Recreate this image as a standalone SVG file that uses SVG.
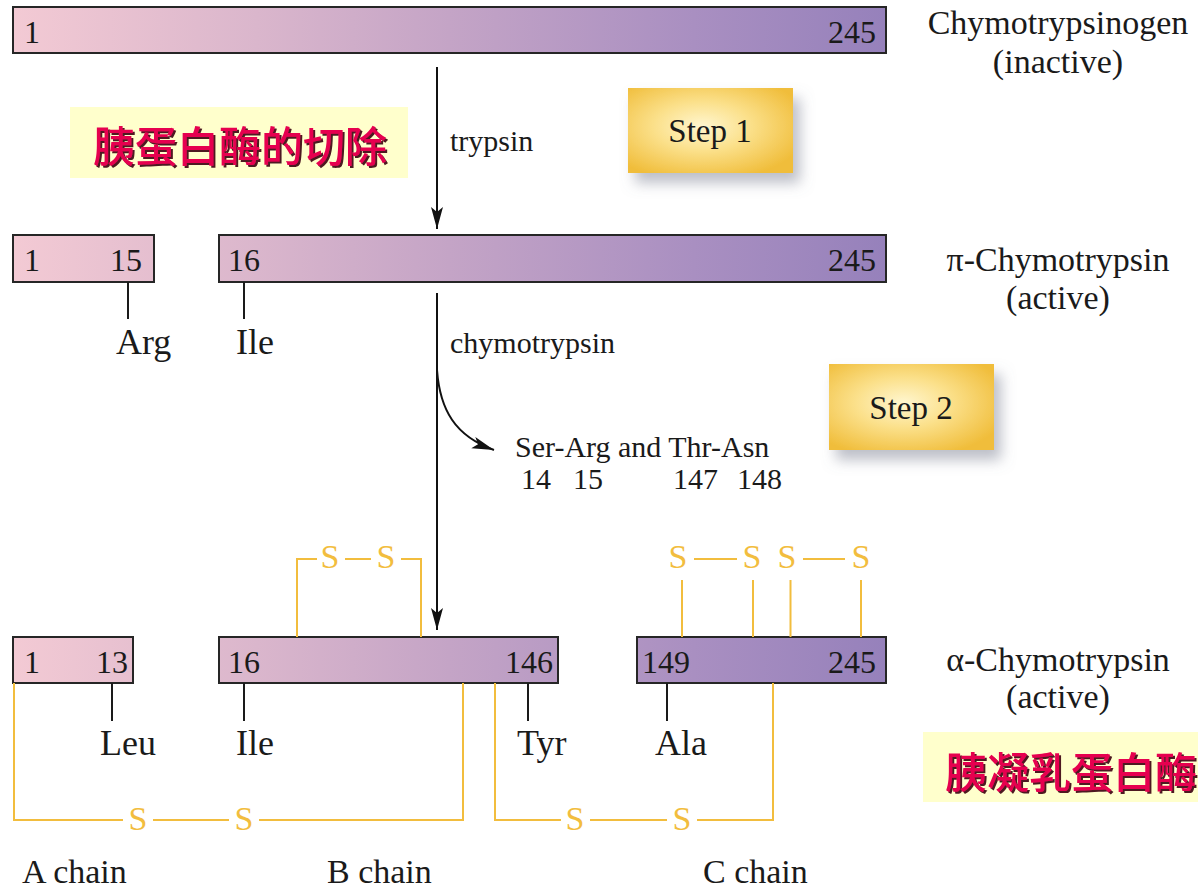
<svg xmlns="http://www.w3.org/2000/svg" width="1198" height="889" viewBox="0 0 1198 889">
<defs>
<linearGradient id="barGrad" gradientUnits="userSpaceOnUse" x1="13" y1="0" x2="886" y2="0">
<stop offset="0" stop-color="#f3cad4"/>
<stop offset="0.28" stop-color="#dab6cc"/>
<stop offset="0.5" stop-color="#c4a4c6"/>
<stop offset="0.78" stop-color="#a98fc1"/>
<stop offset="1" stop-color="#9681bb"/>
</linearGradient>
<radialGradient id="goldGrad" cx="0.45" cy="0.45" r="0.65">
<stop offset="0" stop-color="#fff6cf"/>
<stop offset="0.45" stop-color="#fbe08a"/>
<stop offset="1" stop-color="#f0bd3a"/>
</radialGradient>
<filter id="boxShadow" x="-20%" y="-20%" width="150%" height="160%">
<feDropShadow dx="7" dy="10" stdDeviation="7" flood-color="#7a7f90" flood-opacity="0.5"/>
</filter>
<filter id="cnShadow" x="-5%" y="-10%" width="110%" height="130%">
<feDropShadow dx="2" dy="2" stdDeviation="0.4" flood-color="#3a0010" flood-opacity="0.9"/>
</filter>
<marker id="arrowHead" markerUnits="userSpaceOnUse" markerWidth="24" markerHeight="14" refX="22" refY="7" orient="auto">
<path d="M0,1 L22,7 L0,13 L5,7 Z" fill="#111"/>
</marker>
<style>
.bar{fill:url(#barGrad);stroke:#262626;stroke-width:2}
.num{font-family:"Liberation Serif",serif;font-size:32px;fill:#1a1a1a}
.lbl{font-family:"Liberation Serif",serif;font-size:34px;fill:#1a1a1a;text-anchor:middle}
.res{font-family:"Liberation Serif",serif;font-size:36px;fill:#1a1a1a}
.small{font-family:"Liberation Serif",serif;font-size:30px;fill:#1a1a1a}
.chain{font-family:"Liberation Serif",serif;font-size:34px;fill:#1a1a1a}
.step{font-family:"Liberation Serif",serif;font-size:33px;fill:#1a1a1a;text-anchor:middle}
.tick{stroke:#1a1a1a;stroke-width:2;fill:none}
.ss{stroke:#f2bd3e;stroke-width:2;fill:none}
.s{font-family:"Liberation Serif",serif;font-size:34px;fill:#f2bd3e;text-anchor:middle}
.cn{font-family:"Noto Sans CJK SC",sans-serif;font-weight:500;font-size:42px;fill:#e6004f;filter:url(#cnShadow)}
.cnbox{fill:#ffffcc}
.arrow{stroke:#111;stroke-width:2;fill:none;marker-end:url(#arrowHead)}
</style>
</defs>
<rect width="1198" height="889" fill="#ffffff"/>

<g id="chymotrypsinogen">
<rect class="bar" x="13" y="7" width="873" height="46"/>
<text class="num" x="24" y="43">1</text>
<text class="num" x="876" y="43" text-anchor="end">245</text>
<text class="lbl" x="1058" y="34">Chymotrypsinogen</text>
<text class="lbl" x="1058" y="73">(inactive)</text>
</g>

<g id="title-cn">
<rect class="cnbox" x="70" y="107" width="338" height="71"/>
<text class="cn" x="93" y="162">胰蛋白酶的切除</text>
</g>

<g id="step1">
<rect x="628" y="88" width="165" height="85" fill="url(#goldGrad)" filter="url(#boxShadow)"/>
<text class="step" x="710" y="142">Step 1</text>
</g>

<g id="pi-chymotrypsin">
<rect class="bar" x="13" y="235" width="141" height="47"/>
<text class="num" x="24" y="271">1</text>
<text class="num" x="110" y="271">15</text>
<rect class="bar" x="219" y="235" width="667" height="47"/>
<text class="num" x="228" y="271">16</text>
<text class="num" x="876" y="271" text-anchor="end">245</text>
<line class="tick" x1="128" y1="282" x2="128" y2="319"/>
<text class="res" x="116" y="354">Arg</text>
<line class="tick" x1="244" y1="282" x2="244" y2="319"/>
<text class="res" x="236" y="354">Ile</text>
<text class="lbl" x="1058" y="271">π-Chymotrypsin</text>
<text class="lbl" x="1058" y="309">(active)</text>
</g>

<g id="step2">
<rect x="829" y="364" width="165" height="86" fill="url(#goldGrad)" filter="url(#boxShadow)"/>
<text class="step" x="911" y="419">Step 2</text>
</g>

<g id="released">
<text class="small" x="515" y="457">Ser-Arg and Thr-Asn</text>
<text class="small" x="521" y="489">14</text>
<text class="small" x="573" y="489">15</text>
<text class="small" x="673" y="489">147</text>
<text class="small" x="737" y="489">148</text>
</g>

<g id="alpha-chymotrypsin">
<rect class="bar" x="13" y="637" width="120" height="46"/>
<text class="num" x="24" y="673">1</text>
<text class="num" x="96" y="673">13</text>
<rect class="bar" x="219" y="637" width="339" height="46"/>
<text class="num" x="228" y="673">16</text>
<text class="num" x="553" y="673" text-anchor="end">146</text>
<rect class="bar" x="637" y="637" width="249" height="46"/>
<text class="num" x="642" y="673">149</text>
<text class="num" x="876" y="673" text-anchor="end">245</text>
<line class="tick" x1="112" y1="683" x2="112" y2="721"/>
<text class="res" x="100" y="755">Leu</text>
<line class="tick" x1="244" y1="683" x2="244" y2="721"/>
<text class="res" x="236" y="755">Ile</text>
<line class="tick" x1="528" y1="683" x2="528" y2="721"/>
<text class="res" x="517" y="755">Tyr</text>
<line class="tick" x1="667" y1="683" x2="667" y2="721"/>
<text class="res" x="655" y="755">Ala</text>
<text class="lbl" x="1058" y="671">α-Chymotrypsin</text>
<text class="lbl" x="1058" y="708">(active)</text>
<text class="chain" x="22" y="883">A chain</text>
<text class="chain" x="327" y="883">B chain</text>
<text class="chain" x="703" y="883">C chain</text>
</g>

<g id="disulfides">
<path class="ss" d="M297,637 V559 H317 M345,559 H371 M401,559 H421 V637"/>
<text class="s" x="330" y="568">S</text>
<text class="s" x="386" y="568">S</text>
<path class="ss" d="M682,637 V580 M753,637 V580 M790.5,637 V580 M861,637 V580 M694,559 H737 M803,559 H845"/>
<text class="s" x="678" y="568">S</text>
<text class="s" x="752" y="568">S</text>
<text class="s" x="787" y="568">S</text>
<text class="s" x="861" y="568">S</text>
<path class="ss" d="M14,683 V820 H123 M153,820 H229 M259,820 H463 V683"/>
<text class="s" x="138" y="830">S</text>
<text class="s" x="244" y="830">S</text>
<path class="ss" d="M495,683 V820 H561 M590,820 H667 M697,820 H773 V683"/>
<text class="s" x="575" y="830">S</text>
<text class="s" x="682" y="830">S</text>
</g>

<g id="alpha-cn">
<rect class="cnbox" x="923" y="732" width="275" height="70"/>
<text class="cn" x="945" y="788">胰凝乳蛋白酶</text>
</g>

<g id="connectors">
<line class="arrow" x1="437" y1="67" x2="437" y2="229"/>
<text class="small" x="450" y="151">trypsin</text>
<line class="arrow" x1="437" y1="293" x2="437" y2="630"/>
<text class="small" x="450" y="353">chymotrypsin</text>
<path class="arrow" d="M437,370 C440,410 455,436 494,450"/>
</g>
</svg>
